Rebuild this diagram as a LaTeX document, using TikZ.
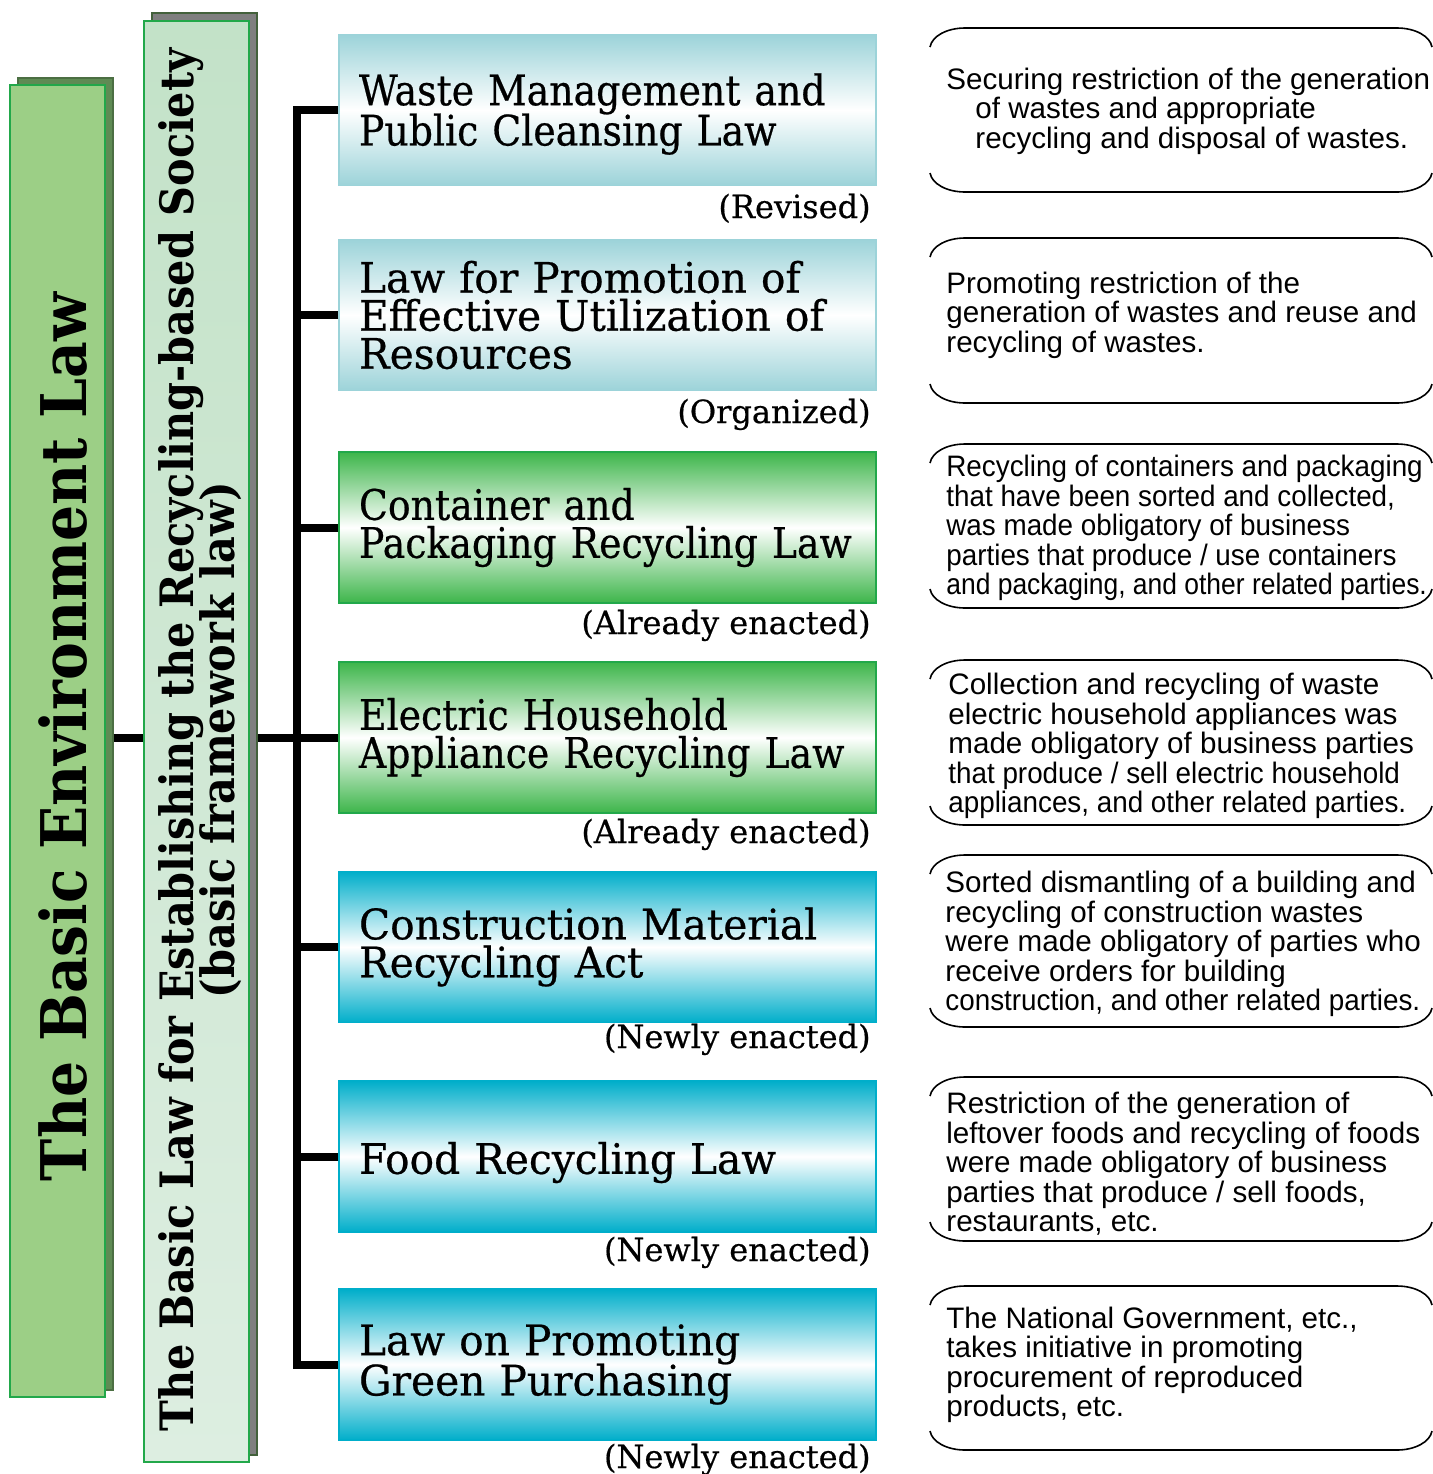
\documentclass[tikz,border=0pt]{standalone}
\usepackage{fontspec}
\newfontfamily\barfont[FakeStretch=0.9]{DejaVu Serif}
\newfontfamily\lawfont[FakeStretch=0.9,FakeBold=0.5]{DejaVu Serif}
\newfontfamily\lawwide[FakeStretch=0.97,FakeBold=0.5]{DejaVu Serif}
\newfontfamily\tagfont[FakeBold=0.5]{DejaVu Serif}
\newfontfamily\descfont{Liberation Sans}
\newfontfamily\desccond[FakeStretch=0.94]{Liberation Sans}
\newcommand\squeeze[2]{\scalebox{#1}[1]{#2}}
\newcommand\lift[1]{\rule{0pt}{#1}}
\definecolor{bargreen}{HTML}{9CCF86}
\definecolor{barshadow}{HTML}{5F8B54}
\definecolor{edgegreen}{HTML}{22A84A}
\definecolor{bartwotop}{HTML}{C3E2C8}
\definecolor{bartwobot}{HTML}{DDEEE1}
\definecolor{shadowgray}{HTML}{7F7F7F}
\definecolor{tealbox}{HTML}{9CD3D9}
\definecolor{greenbox}{HTML}{3DB54A}
\definecolor{bluebox}{HTML}{00AECA}
\newcommand\bubbleoutline[2]{%
  \draw[bubbleline] (930,#1+19) .. controls (932,#1+8) and (947,#1) .. (965,#1) -- (1397,#1)
    .. controls (1415,#1) and (1430,#1+8) .. (1432,#1+19);
  \draw[bubbleline] (930,#2-19) .. controls (932,#2-8) and (947,#2) .. (965,#2) -- (1397,#2)
    .. controls (1415,#2) and (1430,#2-8) .. (1432,#2-19);}
\begin{document}
\lineskiplimit=-20pt\relax
\begin{tikzpicture}[x=0.5pt,y=-0.5pt,
  barbox/.style={rectangle, inner sep=0pt, line width=0.7pt},
  lawbox/.style={rectangle, inner xsep=10pt, inner ysep=0pt, text width=248.5pt,
    minimum height=75.5pt, align=left, line width=0.6pt,
    font=\lawfont\fontsize{21}{19}\selectfont},
  widetext/.style={font=\lawwide\fontsize{21}{19}\selectfont},
  tealfill/.style={top color=tealbox, bottom color=tealbox, middle color=white, draw=tealbox},
  greenfill/.style={top color=greenbox, bottom color=greenbox, middle color=white, draw=edgegreen},
  bluefill/.style={top color=bluebox, bottom color=bluebox, middle color=white, draw=bluebox},
  tag/.style={anchor=base east, inner sep=0pt, font=\tagfont\fontsize{16}{16}\selectfont},
  desc/.style={anchor=west, inner sep=0pt, align=left, font=\descfont\fontsize{14.8}{14.75}\selectfont},
  conn/.style={line width=4pt, black, line join=miter},
  bubbleline/.style={line width=0.8pt, black}]
\useasboundingbox (0,0) rectangle (1433,1474);

% ---- left bars
\node[barbox, fill=barshadow, draw=barshadow!80!black, minimum width=47.5pt, minimum height=656pt] (bar1sh) at (65.5,734) {};
\node[barbox, fill=bargreen, draw=edgegreen, minimum width=47.5pt, minimum height=656pt] (bar1) at (57.5,741) {};
\node[rotate=90, inner sep=0pt, font=\barfont\bfseries\fontsize{31.5}{31.5}\selectfont] (bar1text) at (63,737) {The Basic Environment Law};

\node[barbox, fill=shadowgray, draw=barshadow!70!black, minimum width=52.5pt, minimum height=721pt] (bar2sh) at (204.5,734) {};
\node[barbox, top color=bartwotop, bottom color=bartwobot, draw=edgegreen, minimum width=52.5pt, minimum height=720.5pt] (bar2) at (196.5,741.5) {};
\node[rotate=90, inner sep=0pt, align=center, font=\barfont\bfseries\fontsize{23}{20.5}\selectfont] (bar2text) at (200,740)
  {The Basic Law for Establishing the Recycling-based Society\\(basic framework law)};

% ---- law boxes
\node[lawbox, tealfill] (b1) at (607.5,110) {\lift{20pt}Waste Management and\\[-1.5pt]Public Cleansing Law};
\node[lawbox, tealfill, widetext] (b2) at (607.5,315) {Law for Promotion of\\Effective Utilization of\\Resources};
\node[lawbox, greenfill] (b3) at (607.5,527.5) {Container and\\Packaging Recycling Law};
\node[lawbox, greenfill] (b4) at (607.5,737.5) {Electric Household\\Appliance Recycling Law};
\node[lawbox, bluefill, widetext] (b5) at (607.5,947) {Construction Material\\Recycling Act};
\node[lawbox, bluefill, widetext] (b6) at (607.5,1156.5) {\lift{22pt}Food Recycling Law};
\node[lawbox, bluefill, widetext] (b7) at (607.5,1364.5) {Law on Promoting\\[-1.5pt]Green Purchasing};

% ---- status labels
\node[tag] (s1) at (871,218) {(Revised)};
\node[tag] (s2) at (871,423) {(Organized)};
\node[tag] (s3) at (871,634) {(Already enacted)};
\node[tag] (s4) at (871,843) {(Already enacted)};
\node[tag] (s5) at (871,1048) {(Newly enacted)};
\node[tag] (s6) at (871,1261) {(Newly enacted)};
\node[tag] (s7) at (871,1468) {(Newly enacted)};

% ---- connectors
\coordinate (spine) at (297,737.5);
\draw[conn] (b1.west) -| (spine) |- (b7.west);
\draw[conn] (b2.west) -- (b2.west -| spine);
\draw[conn] (b3.west) -- (b3.west -| spine);
\draw[conn] (b5.west) -- (b5.west -| spine);
\draw[conn] (b6.west) -- (b6.west -| spine);
\draw[conn] (bar2sh.east |- b4.west) -- (b4.west);
\draw[conn] (bar1sh.east |- b4.west) -- (bar2.west |- b4.west);

% ---- descriptions
\bubbleoutline{28}{192}
\node[desc] (d1) at (946,111) {Securing restriction of the generation\\\hspace*{14.5pt}of wastes and appropriate\\\hspace*{14.5pt}recycling and disposal of wastes.};
\bubbleoutline{238}{403}
\node[desc] (d2) at (946,315) {Promoting restriction of the\\generation of wastes and reuse and\\recycling of wastes.};
\bubbleoutline{444}{608}
\node[desc, font=\desccond\fontsize{14.8}{14.75}\selectfont] (d3) at (946,528) {Recycling of containers and packaging\\that have been sorted and collected,\\was made obligatory of business\\parties that produce / use containers\\\squeeze{0.95}{and packaging, and other related parties.}};
\bubbleoutline{660}{825}
\node[desc] (d4) at (948,746) {Collection and recycling of waste\\electric household appliances was\\made obligatory of business parties\\\squeeze{0.94}{that produce / sell electric household}\\\squeeze{0.94}{appliances, and other related parties.}};
\bubbleoutline{855}{1027}
\node[desc] (d5) at (945,944) {Sorted dismantling of a building and\\recycling of construction wastes\\were made obligatory of parties who\\receive orders for building\\\squeeze{0.94}{construction, and other related parties.}};
\bubbleoutline{1077}{1241}
\node[desc] (d6) at (946,1164) {Restriction of the generation of\\leftover foods and recycling of foods\\were made obligatory of business\\parties that produce / sell foods,\\restaurants, etc.};
\bubbleoutline{1286}{1450}
\node[desc] (d7) at (946,1365) {The National Government, etc.,\\takes initiative in promoting\\procurement of reproduced\\products, etc.};
\end{tikzpicture}
\end{document}
